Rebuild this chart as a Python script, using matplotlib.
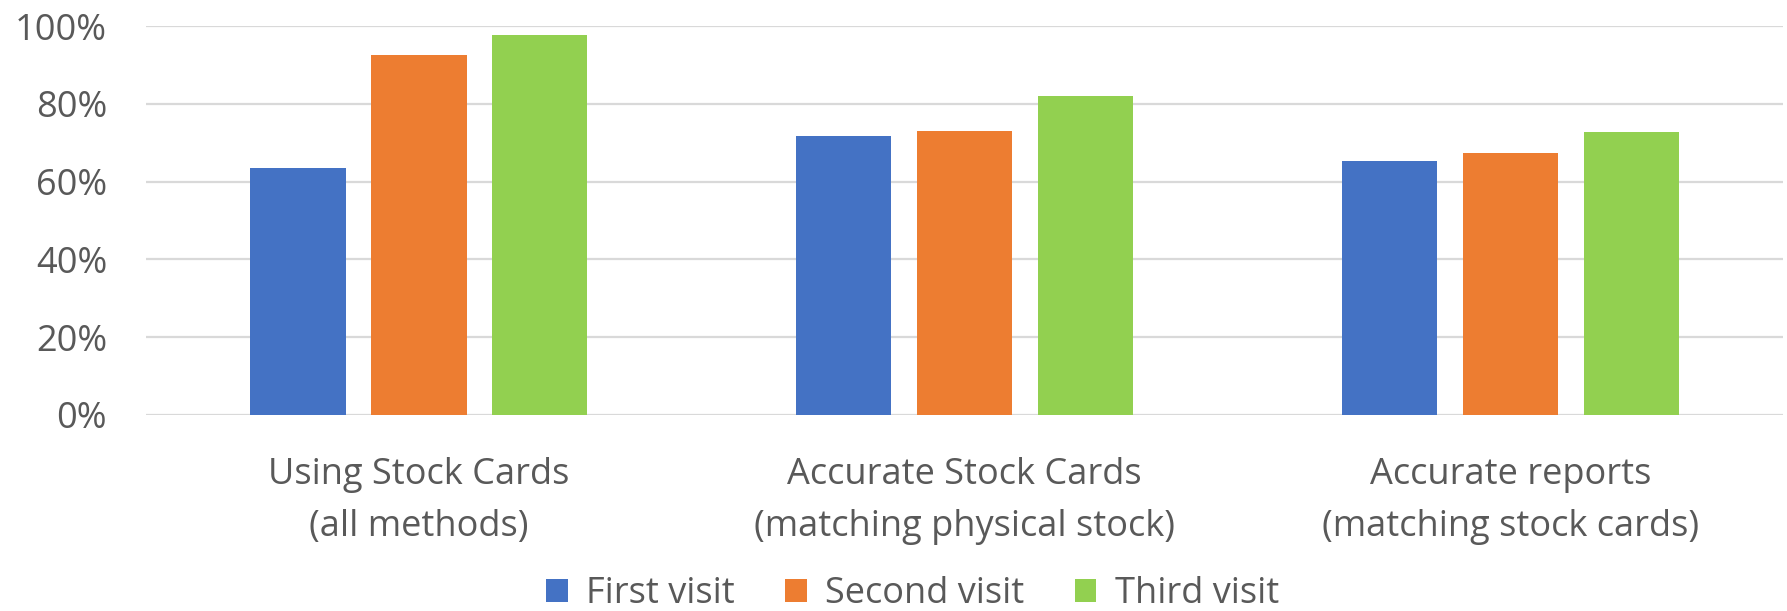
import numpy as np
import matplotlib
matplotlib.use("Agg")
import matplotlib.pyplot as plt
from matplotlib.ticker import PercentFormatter

categories = ["Using Stock Cards\n(all methods)",
              "Accurate Stock Cards\n(matching physical stock)",
              "Accurate reports\n(matching stock cards)"]
series_names = ["First visit", "Second visit", "Third visit"]
first_visit = [63.6, 71.7, 65.2]
second_visit = [92.6, 73.0, 67.4]
third_visit = [97.8, 82.0, 72.7]
y_ticks = [0, 20, 40, 60, 80, 100]

colors = ["#4472C4", "#ED7D31", "#92D050"]
text_gray = "#595959"

plt.rcParams["font.family"] = ["Open Sans", "DejaVu Sans"]

fig = plt.figure(figsize=(17.87, 6.11), dpi=100)
ax = fig.add_axes([0.0817, 0.3208, 0.9163, 0.6366])

x = np.arange(len(categories))
pitch = 0.2216
width = 0.1745

for i, (vals, name) in enumerate(zip([first_visit, second_visit, third_visit], series_names)):
	ax.bar(x + (i - 1) * pitch, vals, width=width, color=colors[i], label=name, zorder=3)

ax.set_xlim(-0.5, len(categories) - 0.5)
ax.set_ylim(0, 100)
ax.set_yticks(y_ticks)
ax.yaxis.set_major_formatter(PercentFormatter(decimals=0))
ax.yaxis.grid(True, color="#D9D9D9", linewidth=1.6, zorder=0)
ax.set_axisbelow(True)

for s in ax.spines.values():
	s.set_visible(False)

ax.set_xticks(x)
ax.set_xticklabels(categories, linespacing=1.6)
ax.tick_params(axis="both", length=0, labelsize=26, labelcolor=text_gray)
ax.tick_params(axis="y", pad=28)
ax.tick_params(axis="x", pad=30)

leg = ax.legend(loc="center", bbox_to_anchor=(0.5 + (912 - 893) / 1787, 1 - 594 / 611),
	bbox_transform=fig.transFigure, ncol=3, frameon=False, fontsize=26,
	handlelength=0.6, handleheight=0.6, handletextpad=0.5, columnspacing=1.4,
	borderpad=0.1)
for t in leg.get_texts():
	t.set_color(text_gray)

fig.savefig("out.png", dpi=100)
